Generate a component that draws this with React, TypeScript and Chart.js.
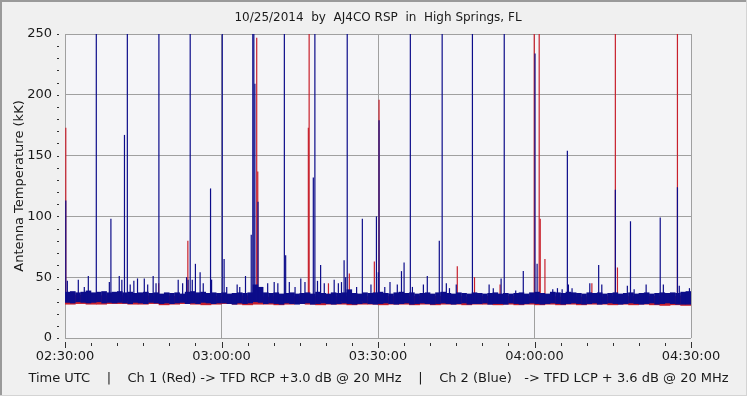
import React, { useEffect, useRef } from "react";
import { Chart, registerables } from "chart.js";

Chart.register(...registerables);

const TITLE = "10/25/2014  by  AJ4CO RSP  in  High Springs, FL";
const Y_TITLE = "Antenna Temperature (kK)";
const X_TITLE =
  "Time UTC    |    Ch 1 (Red) -> TFD RCP +3.0 dB @ 20 MHz    |    Ch 2 (Blue)   -> TFD LCP + 3.6 dB @ 20 MHz";

// minutes after 02:30:00 UTC
const X_TICK_MINUTES = [0, 30, 60, 90, 120];
const Y_TICK_VALUES = [0, 50, 100, 150, 200, 250];

// Ch 2 (blue) baseline band, one bin per minute: low and high of the noise
const blueLo = [
  29, 28.5, 29.5, 29, 28.5, 29, 29.5, 28.5, 29, 28.5,
  29, 28.5, 28, 29, 28.5, 28, 29, 28.5, 28, 28.5,
  28, 28.5, 29, 28, 28.5, 28, 29, 28.5, 28, 28.5,
  28.5, 28, 27.5, 28.5, 28, 28.5, 29.5, 29, 28, 28.5,
  28, 27.5, 28.5, 28, 27.5, 28, 28.5, 27.5, 28, 28.5,
  28, 27.5, 28, 28.5, 28, 27.5, 28, 28.5, 28, 27.5,
  28, 28.5, 28, 27.5, 28, 28.5, 27.5, 28, 28.5, 28,
  27.5, 28, 28.5, 28, 27.5, 28, 28.5, 27.5, 28, 28,
  28.5, 27.5, 28, 28, 27.5, 28.5, 28, 27.5, 28, 28.5,
  28, 27.5, 28, 28.5, 28, 27.5, 28, 28.5, 28, 27.5,
  28, 28.5, 27.5, 28, 28.5, 28, 27.5, 28, 28.5, 28,
  27.5, 28, 28.5, 27.5, 28, 28.5, 28, 27.5, 27.5, 27.5,
];
const blueHi = [
  38, 38.5, 37.5, 38, 39, 37.5, 38, 38.5, 37.5, 38,
  38.5, 37.5, 38, 37, 37.5, 38, 37, 37.5, 36.5, 37.5,
  37, 37.5, 36.5, 38, 38.5, 37.5, 38, 37, 37.5, 37,
  37.5, 36.5, 37, 37.5, 37, 37.5, 44, 42, 37.5, 37,
  37.5, 36.5, 37, 37.5, 36.5, 37, 37.5, 36.5, 38, 37,
  36.5, 37.5, 37, 37.5, 40, 37, 36.5, 37.5, 37, 37.5,
  38, 37, 36.5, 37.5, 38, 37, 37.5, 36.5, 37, 37.5,
  36.5, 37.5, 38, 37, 36.5, 37.5, 37, 36.5, 37.5, 37,
  36.5, 37, 37.5, 36.5, 37, 36.5, 37, 37.5, 36.5, 37.5,
  38, 37, 36.5, 38, 37.5, 37, 38, 37.5, 37, 36.5,
  37.5, 37, 37.5, 36.5, 37, 37.5, 36.5, 37, 37.5, 36.5,
  37, 37.5, 36.5, 37, 37.5, 37, 37.5, 37, 38, 38.5,
];

// Ch 1 (red) baseline band, one bin per two minutes
const redLo = [
  27.5, 28, 27.5, 27.5, 28, 28, 27.5, 27.5, 28, 27,
  27.5, 28, 27.5, 27, 27.5, 28, 27.5, 27, 27.5, 27.5,
  27, 27.5, 28, 27.5, 27, 27.5, 27.5, 27, 27.5, 27.5,
  27, 27.5, 27.5, 27, 27.5, 27, 27.5, 27.5, 27, 27.5,
  27.5, 27, 27.5, 27, 27.5, 27, 27.5, 27, 27.5, 27,
  27.5, 27.5, 27, 27.5, 27, 27.5, 27, 26.5, 27, 26.5,
];
const redHi = [
  35, 35.5, 35, 35, 35.5, 35, 34.5, 35, 34.5, 35,
  34.5, 35, 34.5, 35, 34.5, 34, 34.5, 35, 34.5, 34,
  34.5, 34, 34.5, 34.5, 34, 34.5, 34, 34.5, 34, 34.5,
  34, 34.5, 34, 34.5, 34, 34.5, 34, 34.5, 34, 34,
  34.5, 34, 34.5, 34, 34.5, 34, 34.5, 34, 34.5, 34,
  34.5, 34, 34.5, 34, 34.5, 34, 34.5, 34, 34.5, 35,
];

// Impulsive spikes: time (minutes after 02:30) and peak (kK); 300 = off scale
const blueSpikeMin = [
  0.15, 0.45, 2.55, 3.7, 4.47, 6.0, 8.5, 8.8, 10.4, 10.9,
  11.4, 11.95, 12.5, 13.2, 13.9, 15.2, 15.85, 16.9, 17.45, 18.0,
  21.7, 22.55, 23.3, 23.6, 24.0, 24.4, 25.0, 25.9, 26.5, 27.9,
  28.1, 30.15, 30.5, 31.0, 33.0, 33.5, 34.6, 35.7, 36.0, 36.2,
  36.4, 37.0, 38.85, 40.1, 40.8, 42.05, 42.3, 43.0, 44.1, 45.2,
  46.0, 47.6, 47.9, 48.4, 49.0, 49.7, 51.6, 52.4, 53.0, 53.5,
  53.8, 54.1, 55.9, 57.0, 58.65, 59.7, 60.06, 60.2, 61.3, 62.3,
  63.7, 64.5, 65.0, 66.2, 66.6, 68.7, 69.45, 71.75, 72.3, 73.1,
  73.7, 75.0, 78.1, 81.3, 82.1, 83.6, 84.2, 86.4, 87.85, 90.1,
  90.5, 93.5, 94.4, 95.3, 96.3, 96.5, 97.2, 100.6, 102.3, 102.9,
  105.5, 107.8, 108.4, 109.1, 111.4, 114.1, 114.7, 117.4, 117.75, 119.7,
];
const blueSpikePeak = [
  113, 47, 48, 42, 51, 300, 46, 98, 51, 48,
  167, 300, 44, 47, 49, 49, 44, 51, 45, 300,
  48, 45, 50, 48, 300, 48, 61, 54, 45, 123,
  48, 300, 65, 42, 44, 42, 51, 85, 300, 300,
  209, 112, 45, 46, 45, 300, 68, 46, 42, 49,
  46, 132, 300, 47, 60, 45, 48, 45, 46, 64,
  50, 300, 42, 98, 44, 100, 54, 179, 42, 46,
  44, 55, 62, 300, 42, 44, 51, 80, 300, 45,
  41, 44, 300, 44, 41, 49, 300, 39, 55, 234,
  61, 40, 41, 40, 154, 44, 41, 45, 60, 44,
  122, 43, 96, 40, 44, 99, 44, 124, 43, 41,
];
const redSpikeMin = [
  0.15, 17.95, 23.55, 36.75, 36.95, 46.65, 46.8, 50.5, 54.5, 59.3,
  60.2, 75.2, 78.5, 83.4, 89.95, 90.9, 91.1, 92.0, 101.0, 105.5,
  105.9, 117.4,
];
const redSpikePeak = [
  173, 45, 80, 247, 137, 173, 300, 45, 53, 63,
  196, 59, 50, 44, 300, 300, 98, 65, 45, 300,
  58, 300,
];

const BLUE = "#0c0c8a";
const RED = "#c8202c";
const FONT = "'DejaVu Sans', Verdana, sans-serif";
const TEXT = "#1a1a1a";

function fmtTime(m: number): string {
  const total = 2 * 60 + 30 + m;
  const h = Math.floor(total / 60);
  const mm = total % 60;
  return `${String(h).padStart(2, "0")}:${String(mm).padStart(2, "0")}:00`;
}

const framePlugin = {
  id: "frame",
  beforeDraw(chart: any) {
    const { ctx, width, height, chartArea } = chart;
    ctx.save();
    ctx.fillStyle = "#f0f0f0";
    ctx.fillRect(0, 0, width, height);
    ctx.fillStyle = "#f5f5f8";
    ctx.fillRect(chartArea.left, chartArea.top, chartArea.right - chartArea.left, chartArea.bottom - chartArea.top);
    // outer frame
    ctx.fillStyle = "#9a9a9a";
    ctx.fillRect(0, 0, width, 2);
    ctx.fillRect(0, 0, 2, height);
    ctx.fillStyle = "#d4d4d4";
    ctx.fillRect(0, height - 1, width, 1);
    ctx.fillRect(width - 1, 0, 1, height);
    // title and bottom caption
    ctx.fillStyle = TEXT;
    ctx.textAlign = "center";
    ctx.textBaseline = "middle";
    ctx.font = `12px ${FONT}`;
    ctx.fillText(TITLE, 378, 18);
    ctx.font = `13px ${FONT}`;
    ctx.fillText(X_TITLE, 378.5, 379);
    ctx.restore();
  },
  afterDraw(chart: any) {
    const { ctx, chartArea } = chart;
    const xs = chart.scales.x;
    const ys = chart.scales.y;
    ctx.save();
    ctx.strokeStyle = "#303030";
    ctx.lineWidth = 1;
    ctx.beginPath();
    for (let v = 0; v <= 250; v += 10) {
      const y = Math.round(ys.getPixelForValue(v)) + 0.5;
      ctx.moveTo(chartArea.left - 8, y);
      ctx.lineTo(chartArea.left - 6, y);
    }
    for (let v = 0; v <= 120; v += 5) {
      const x = Math.round(xs.getPixelForValue(v)) + 0.5;
      const major = v % 30 === 0;
      ctx.moveTo(x, chartArea.bottom + (major ? 4 : 5));
      ctx.lineTo(x, chartArea.bottom + (major ? 10 : 8));
    }
    ctx.stroke();
    ctx.restore();
  },
};

export default function App() {
  const ref = useRef<HTMLCanvasElement | null>(null);
  useEffect(() => {
    if (!ref.current) return;
    document.body.style.margin = "0";
    const blueBand = blueLo.map((lo, i) => ({ x: i + 0.5, y: [lo, blueHi[i]] }));
    const redBand = redLo.map((lo, i) => ({ x: i * 2 + 1, y: [lo, redHi[i]] }));
    const blueSpikes = blueSpikeMin.map((m, i) => ({
      x: m,
      y: [blueLo[Math.min(119, Math.floor(m))] + 2, blueSpikePeak[i]],
    }));
    const redSpikes = redSpikeMin.map((m, i) => ({
      x: m,
      y: [redLo[Math.min(59, Math.floor(m / 2))] + 2, redSpikePeak[i]],
    }));
    const common = { grouped: false, inflateAmount: 0, borderWidth: 0 };
    const chart = new Chart(ref.current, {
      type: "bar",
      data: {
        datasets: [
          { ...common, data: blueSpikes as any, backgroundColor: BLUE, barThickness: 1.2, order: 0 } as any,
          { ...common, data: blueBand as any, backgroundColor: BLUE, barThickness: 5.6, order: 1 } as any,
          { ...common, data: redSpikes as any, backgroundColor: RED, barThickness: 1.2, order: 2 } as any,
          { ...common, data: redBand as any, backgroundColor: RED, barThickness: 10.9, order: 3 } as any,
        ],
      },
      options: {
        animation: false,
        responsive: false,
        events: [],
        layout: { padding: { left: 0, right: 56, top: 34, bottom: 0 } },
        plugins: {
          legend: { display: false },
          tooltip: { enabled: false },
          title: { display: false },
        },
        scales: {
          x: {
            type: "linear",
            min: 0,
            max: 120,
            offset: false,
            afterFit: (s: any) => {
              s.height = 58;
            },
            afterBuildTicks: (s: any) => {
              s.ticks = X_TICK_MINUTES.map((v) => ({ value: v }));
            },
            ticks: {
              color: TEXT,
              font: { family: FONT, size: 13 },
              padding: 11,
              maxRotation: 0,
              autoSkip: false,
              callback: (v: any) => fmtTime(Number(v)),
            },
            grid: { color: "#a0a0a0", lineWidth: 1, drawTicks: false, offset: false },
            border: { display: false },
          },
          y: {
            type: "linear",
            min: 0,
            max: 250,
            afterFit: (s: any) => {
              s.width = 65;
            },
            afterBuildTicks: (s: any) => {
              s.ticks = Y_TICK_VALUES.map((v) => ({ value: v }));
            },
            ticks: {
              color: TEXT,
              font: { family: FONT, size: 13 },
              padding: 13,
              autoSkip: false,
            },
            grid: { color: "#a0a0a0", lineWidth: 1, drawTicks: false },
            border: { display: false },
            title: {
              display: true,
              text: Y_TITLE,
              color: TEXT,
              font: { family: FONT, size: 13 },
              padding: { top: 12, bottom: 0 },
            },
          },
        },
      } as any,
      plugins: [framePlugin],
    });
    return () => chart.destroy();
  }, []);
  return (
    <div style={{ position: "absolute", left: 0, top: 0, width: 747, height: 396 }}>
      <canvas ref={ref} width={747} height={396} />
    </div>
  );
}
